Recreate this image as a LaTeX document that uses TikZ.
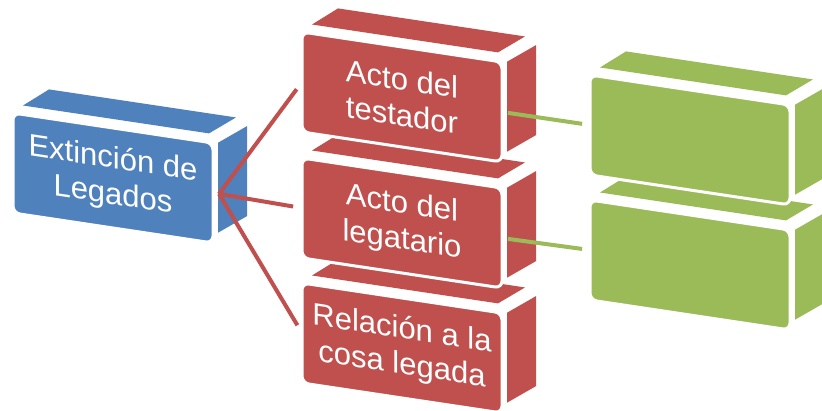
\documentclass[tikz,border=0pt]{standalone}
\usepackage{fontspec}
\setmainfont{Liberation Sans}
\usepackage{xcolor}
\usetikzlibrary{positioning}
\definecolor{legblue}{HTML}{4F81BD}
\definecolor{legred}{HTML}{C0504D}
\definecolor{leggreen}{HTML}{9BBB59}

\tikzset{
	legtext/.style={text=white,align=center,inner sep=0pt,transform shape,font=\fontsize{31}{36}\selectfont},
	redlink/.style={legred,line width=4pt,shorten >=9pt},
	greenlink/.style={leggreen,line width=4pt,shorten >=8pt}
}

% box: x, y (top left of the front), colour, name, text
\newcommand{\legbox}[5]{%
	\begin{scope}[shift={(#1,-#2)},yslant=-0.15]
	\fill[#3] (10,9) -- (36,29) -- (223,29) -- (196,9) -- cycle;
	\fill[#3] (205,1) -- (234,22) -- (234,-68) -- (205,-89) -- cycle;
	\filldraw[fill=#3,draw=white,line width=3pt,rounded corners=7pt] (0,-100) rectangle (200,0);
	\node[legtext] (#4) at (100,-50) {#5};
	\coordinate (#4-in) at (0,-50);
	\coordinate (#4-out) at (206,-50);
	\end{scope}}

\begin{document}
\begin{tikzpicture}[x=1pt,y=1pt]
	\useasboundingbox (0,0) rectangle (822,-411);
	\legbox{13}{113}{legblue}{ext}{Extinción de\\Legados}
	\legbox{302}{283}{legred}{rel}{Relación a la\\cosa legada}
	\legbox{302}{158}{legred}{leg}{Acto del\\legatario}
	\legbox{302}{32}{legred}{tes}{Acto del\\testador}
	\legbox{590}{200}{leggreen}{gtwo}{}
	\legbox{590}{75}{leggreen}{gone}{}
	\draw[redlink] (ext-out) -- (tes-in);
	\draw[redlink] (ext-out) -- (leg-in);
	\draw[redlink] (ext-out) -- (rel-in);
	\draw[greenlink] (tes-out) -- (gone-in);
	\draw[greenlink] (leg-out) -- (gtwo-in);
\end{tikzpicture}
\end{document}
